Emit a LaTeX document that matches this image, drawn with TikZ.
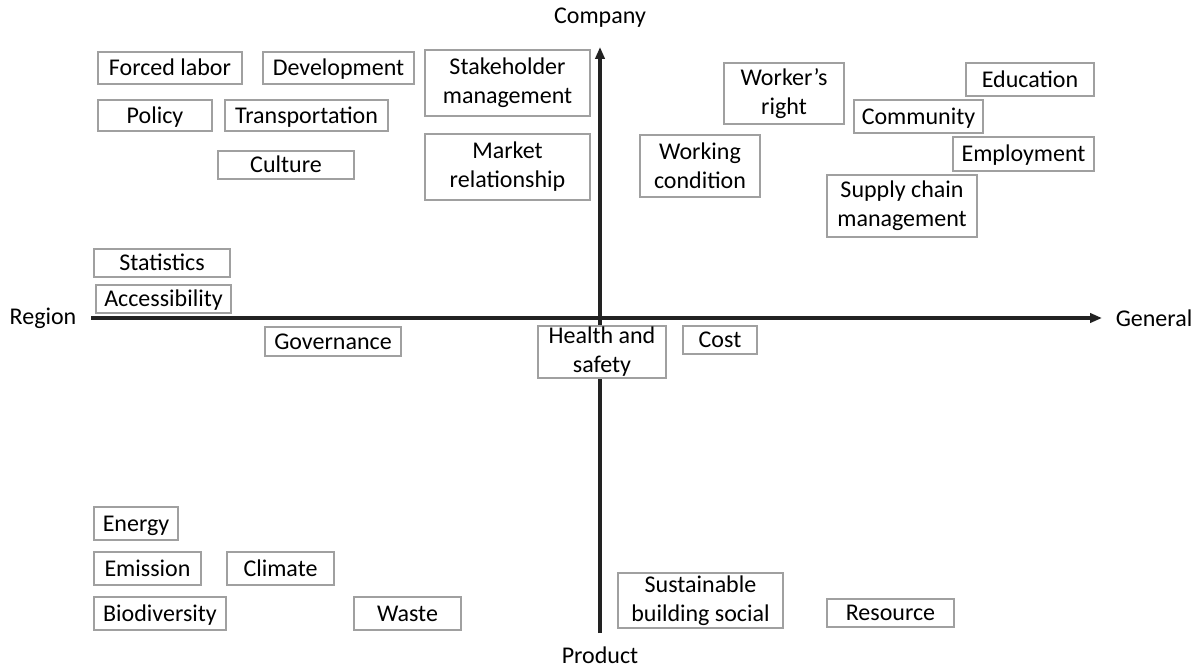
\documentclass[tikz,border=0pt]{standalone}
\usepackage{fontspec}
\setmainfont{Carlito}
\usetikzlibrary{arrows.meta}

\begin{document}
\begin{tikzpicture}[
	x=0.75pt, y=-0.75pt,
	tag/.style={draw=boxgray, line width=1pt, fill=white, inner sep=0pt, align=center, font=\fontsize{18}{21.75}\selectfont},
	one/.style={tag, text height=11.6pt, text depth=0pt},
	sz/.style 2 args={minimum width=#1*0.75pt, minimum height=#2*0.75pt},
	axis/.style={line width=2.4pt, draw=axisgray, -{Triangle[length=9pt, width=7pt]}},
	axlabel/.style={font=\fontsize{18}{21.75}\selectfont}
	]
	% Define colors
	\definecolor{boxgray}{RGB}{160,160,160}   % box frames
	\definecolor{axisgray}{RGB}{34,34,34}     % axes
	
	% Canvas
	\useasboundingbox (0,0) rectangle (1203,667);
	
	% Axis labels
	\node[axlabel] (region) at (43,318) {Region};
	\node[axlabel] (general) at (1154,318) {General};
	\node[axlabel] (company) at (600,18) {Company};
	\node[axlabel] (product) at (600,655) {Product};
	
	% Axis ends
	\coordinate (xstart) at (91,318);
	\coordinate (xend) at (1102,318);
	\coordinate (ystart) at (600,633);
	\coordinate (yend) at (600,47);
	
	% Axes
	\draw[axis] (xstart) -- (xend);
	\draw[axis] (ystart) -- (yend);
	
	% Upper left quadrant
	\node[one, sz={144}{32}] (forced) at (170,68) {Forced labor};
	\node[one, sz={151}{32}] (develop) at (338.5,68) {Development};
	\node[tag, sz={165}{66}] (stake) at (507.5,83) {Stakeholder\\management};
	\node[one, sz={114}{31}] (policy) at (155,115.5) {Policy};
	\node[one, sz={163}{31}] (transport) at (306.5,115.5) {Transportation};
	\node[one, sz={136}{28}] (culture) at (286,165) {Culture};
	\node[tag, sz={165}{66}] (market) at (507.5,167) {Market\\relationship};
	\node[one, sz={136}{28}] (stats) at (162,263) {Statistics};
	\node[one, sz={135}{28}] (access) at (163.5,299) {Accessibility};
	
	% Upper right quadrant
	\node[tag, sz={120}{61}] (worker) at (784,93.5) {Worker’s\\right};
	\node[tag, sz={120}{62}] (working) at (700,166) {Working\\condition};
	\node[one, sz={128}{33}] (education) at (1030,79.5) {Education};
	\node[one, sz={129}{33}] (community) at (918.5,116.5) {Community};
	\node[one, sz={141}{34}] (employ) at (1023.5,154) {Employment};
	\node[tag, sz={150}{62}] (supply) at (902,206) {Supply chain\\management};
	
	% Around the axes
	\node[one, sz={136}{29}] (govern) at (333,341.5) {Governance};
	\node[tag, sz={128}{52}] (health) at (602,352) {Health and\\safety};
	\node[one, sz={74}{28}] (cost) at (720,340) {Cost};
	
	% Lower left quadrant
	\node[one, sz={84}{33}] (energy) at (136,523.5) {Energy};
	\node[one, sz={107}{33}] (emission) at (147.5,568.5) {Emission};
	\node[one, sz={107}{33}] (climate) at (280.5,568.5) {Climate};
	\node[one, sz={132}{33}] (biodiv) at (160,613.5) {Biodiversity};
	\node[one, sz={107}{33}] (waste) at (407.5,613.5) {Waste};
	
	% Lower right quadrant
	\node[tag, sz={165}{55}] (sustain) at (700.5,600.5) {Sustainable\\building social};
	\node[one, sz={127}{28}] (resource) at (890.5,613) {Resource};
\end{tikzpicture}
\end{document}
